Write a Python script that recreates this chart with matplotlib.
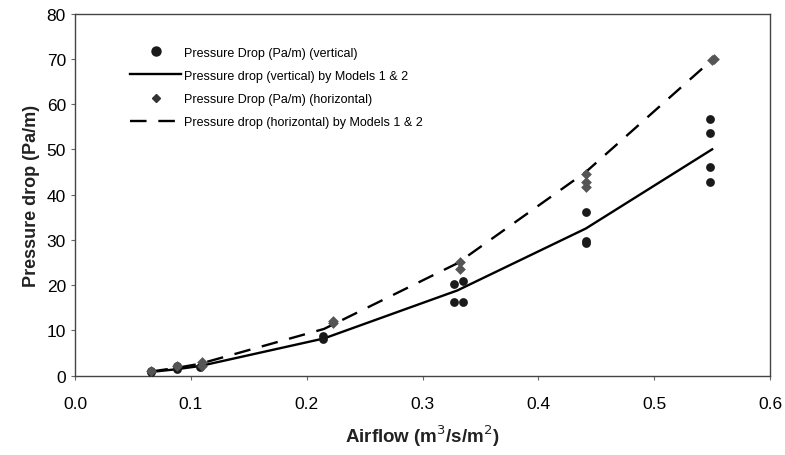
import matplotlib
matplotlib.use("Agg")
import matplotlib.pyplot as plt
from matplotlib.lines import Line2D

plt.rcParams['font.family'] = ['Liberation Sans', 'DejaVu Sans']

# Measured pressure drop, vertical
vert_x = [0.066, 0.066, 0.088, 0.088, 0.108, 0.214, 0.214, 0.327, 0.335, 0.327, 0.335,
          0.441, 0.441, 0.441, 0.548, 0.548, 0.548, 0.548]
vert_y = [0.7, 1.0, 1.5, 2.0, 1.8, 8.0, 8.8, 20.2, 21.0, 16.2, 16.2,
          36.2, 29.8, 29.2, 56.7, 53.5, 46.0, 42.8]

# Measured pressure drop, horizontal
hor_x = [0.066, 0.088, 0.110, 0.110, 0.223, 0.223, 0.332, 0.332, 0.441, 0.441, 0.441, 0.550, 0.552]
hor_y = [1.0, 2.2, 2.9, 2.0, 12.1, 11.6, 25.0, 23.5, 44.5, 42.7, 41.6, 69.8, 70.0]

# Model predictions (Models 1 & 2)
model_x = [0.066, 0.088, 0.108, 0.215, 0.330, 0.441, 0.550]
model_vert = [0.8, 1.4, 2.1, 8.2, 18.8, 32.5, 50.0]
model_hor = [0.9, 1.7, 2.6, 10.3, 24.8, 45.0, 69.8]

xticks = [0.0, 0.1, 0.2, 0.3, 0.4, 0.5, 0.6]
yticks = [0, 10, 20, 30, 40, 50, 60, 70, 80]

fig = plt.figure(figsize=(7.85, 4.56), dpi=100)
ax = fig.add_axes([0.0955, 0.1743, 0.8855, 0.7937])

ax.plot(model_x, model_vert, color='black', lw=1.7, zorder=2)
ax.plot(model_x, model_hor, color='black', lw=1.7, dashes=(7, 5), zorder=2)
ax.scatter(vert_x, vert_y, marker='o', s=40, color='#1a1a1a', zorder=3, linewidths=0)
ax.scatter(hor_x, hor_y, marker='D', s=30, color='#555555', zorder=3, linewidths=0)

ax.set_xlim(0, 0.6)
ax.set_ylim(0, 80)
ax.set_xticks(xticks)
ax.set_xticklabels([f"{v:.1f}" for v in xticks])
ax.set_yticks(yticks)
ax.tick_params(axis='both', labelsize=12.5, direction='out', length=3, color='#666666')
ax.tick_params(axis='x', pad=12)
for sp in ax.spines.values():
    sp.set_color('#444444')
    sp.set_linewidth(1.0)

ax.set_xlabel('Airflow (m$^3$/s/m$^2$)', fontsize=13.5, fontweight='bold', color='#222222', labelpad=8)
ax.set_ylabel('Pressure drop (Pa/m)', fontsize=13, fontweight='bold', color='#222222', labelpad=5)

handles = [
    Line2D([], [], marker='o', color='#1a1a1a', ls='none', markersize=6.5),
    Line2D([], [], color='black', lw=1.7),
    Line2D([], [], marker='D', color='#333333', ls='none', markersize=4.5),
    Line2D([], [], color='black', lw=1.7, dashes=(7, 5)),
]
labels = ['Pressure Drop (Pa/m) (vertical)',
          'Pressure drop (vertical) by Models 1 & 2',
          'Pressure Drop (Pa/m) (horizontal)',
          'Pressure drop (horizontal) by Models 1 & 2']
ax.legend(handles, labels, loc='upper left', bbox_to_anchor=(0.063, 0.94), frameon=False,
          fontsize=9, handlelength=4.1, handletextpad=0.2, labelspacing=0.9)

fig.savefig('out.png', dpi=100)
